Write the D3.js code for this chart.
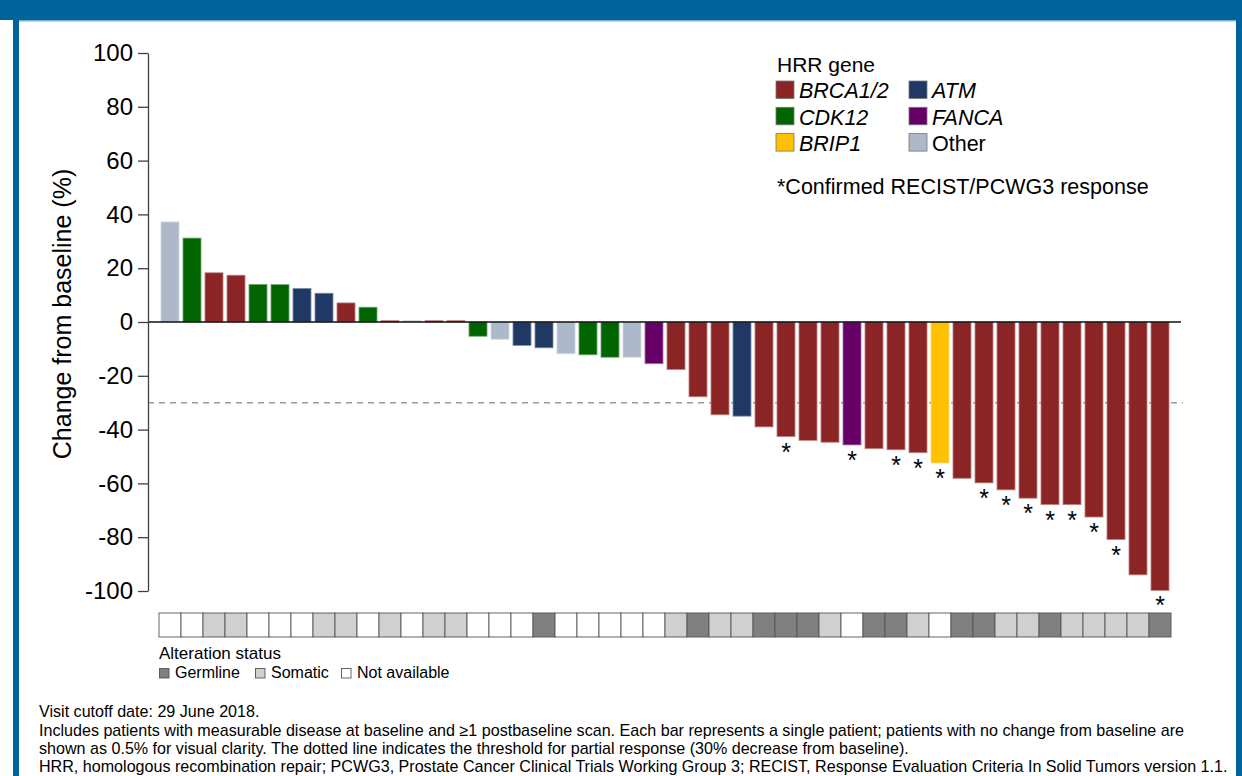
<!DOCTYPE html>
<html>
<head>
<meta charset="utf-8">
<script src="https://cdn.jsdelivr.net/npm/d3@7"></script>
<style>
  html, body { margin: 0; padding: 0; background: #fff; }
  svg { display: block; font-family: "Liberation Sans", Arial, sans-serif; }
</style>
</head>
<body>
<svg id="chart" width="1242" height="776"></svg>
<script>
// ---- Data ----
const genes = ["Other","CDK12","BRCA1/2","BRCA1/2","CDK12","CDK12","ATM","ATM","BRCA1/2","CDK12",
  "BRCA1/2","Other","BRCA1/2","BRCA1/2","CDK12","Other","ATM","ATM","Other","CDK12",
  "CDK12","Other","FANCA","BRCA1/2","BRCA1/2","BRCA1/2","ATM","BRCA1/2","BRCA1/2","BRCA1/2",
  "BRCA1/2","FANCA","BRCA1/2","BRCA1/2","BRCA1/2","BRIP1","BRCA1/2","BRCA1/2","BRCA1/2","BRCA1/2",
  "BRCA1/2","BRCA1/2","BRCA1/2","BRCA1/2","BRCA1/2","BRCA1/2"];
const changes = [37.2, 31.2, 18.3, 17.4, 14.0, 13.9, 12.5, 10.7, 7.1, 5.5,
  0.5, 0.5, 0.5, 0.5, -5.3, -6.4, -8.7, -9.6, -11.8, -12.2,
  -13.1, -13.1, -15.5, -17.7, -27.8, -34.5, -35.0, -39.0, -42.6, -44.0,
  -44.7, -45.7, -47.1, -47.5, -48.6, -52.4, -58.1, -59.8, -62.4, -65.5,
  -67.9, -67.9, -72.5, -80.9, -94.0, -99.8];
const confirmed = [0,0,0,0,0,0,0,0,0,0, 0,0,0,0,0,0,0,0,0,0, 0,0,0,0,0,0,0,0,1,0,
  0,1,0,1,1,1,0,1,1,1, 1,1,1,1,0,1];
const alteration = ["N","N","S","S","N","N","N","S","S","N",
  "S","N","S","S","N","N","N","G","N","N",
  "N","N","N","S","G","S","S","G","G","G",
  "S","N","G","G","S","N","G","G","S","S",
  "G","S","S","S","S","G"];
const yTicks = [100, 80, 60, 40, 20, 0, -20, -40, -60, -80, -100];
const threshold = -30;
const geneOrder = ["BRCA1/2","CDK12","BRIP1","ATM","FANCA","Other"];
const geneColors = ["#8B2424","#006400","#FFC000","#1F3864","#660066","#ADB9CA"];
const statusKeys = ["G","S","N"];
const statusLabels = ["Germline","Somatic","Not available"];
const statusColors = ["#808080","#D0D0D0","#FFFFFF"];
const footnotes = [
  "Visit cutoff date: 29 June 2018.",
  "Includes patients with measurable disease at baseline and \u22651 postbaseline scan. Each bar represents a single patient; patients with no change from baseline are",
  "shown as 0.5% for visual clarity. The dotted line indicates the threshold for partial response (30% decrease from baseline).",
  "HRR, homologous recombination repair; PCWG3, Prostate Cancer Clinical Trials Working Group 3; RECIST, Response Evaluation Criteria In Solid Tumors version 1.1."
];

// ---- Setup ----
const svg = d3.select("#chart");
const W = 1242, H = 776;
const blue = "#00649C";

// frame
svg.append("rect").attr("x",0).attr("y",0).attr("width",W).attr("height",20).attr("fill",blue);
svg.append("rect").attr("x",13).attr("y",0).attr("width",6).attr("height",H).attr("fill",blue);
svg.append("rect").attr("x",1236).attr("y",0).attr("width",6).attr("height",H).attr("fill",blue);
svg.append("rect").attr("x",19).attr("y",20).attr("width",1217).attr("height",1.5).attr("fill","#7FB0D0");

const idx = d3.range(changes.length);
const color = d3.scaleOrdinal().domain(geneOrder).range(geneColors);
const statusColor = d3.scaleOrdinal().domain(statusKeys).range(statusColors);

const y = d3.scaleLinear().domain([-100, 100]).range([591, 53]);
const x = d3.scaleBand().domain(idx).range([159, 1171]).paddingInner(0.18).paddingOuter(0.09);
const xs = d3.scaleBand().domain(idx).range([159, 1171]).padding(0);

// threshold line
svg.append("line")
  .attr("x1",148).attr("x2",1183)
  .attr("y1",y(threshold)).attr("y2",y(threshold))
  .attr("stroke","#999").attr("stroke-width",1.5).attr("stroke-dasharray","6,5");

// bars
svg.append("g").selectAll("rect").data(idx).join("rect")
  .attr("x", i => x(i))
  .attr("width", x.bandwidth())
  .attr("y", i => y(Math.max(0, changes[i])))
  .attr("height", i => Math.abs(y(changes[i]) - y(0)))
  .attr("fill", i => color(genes[i]))
  .attr("stroke", i => d3.interpolateRgb(color(genes[i]), "#fff")(0.45))
  .attr("stroke-width", 0.8);

// zero line
svg.append("line")
  .attr("x1",148).attr("x2",1181)
  .attr("y1",y(0)).attr("y2",y(0))
  .attr("stroke","#111").attr("stroke-width",1.5);

// stars
svg.append("g").selectAll("text").data(idx.filter(i => confirmed[i])).join("text")
  .attr("x", i => x(i) + x.bandwidth()/2)
  .attr("y", i => y(changes[i]) + 24)
  .attr("text-anchor","middle")
  .attr("font-size",25)
  .attr("fill","#000")
  .text("*");

// y axis
const yAxis = d3.axisLeft(y).tickValues(yTicks).tickSize(10).tickSizeOuter(0).tickPadding(5).tickFormat(d => String(d));
const gy = svg.append("g").attr("transform","translate(148,0)").call(yAxis);
gy.selectAll("path, line").attr("stroke","#404040").attr("stroke-width",1.3);
gy.selectAll("text").attr("font-size",24).attr("fill","#000")
  .attr("font-family","'Liberation Sans', Arial, sans-serif");

svg.append("text")
  .attr("transform","translate(62,314) rotate(-90)")
  .attr("text-anchor","middle").attr("dominant-baseline","central")
  .attr("font-size",25).attr("fill","#000")
  .text("Change from baseline (%)");

// alteration strip
svg.append("g").selectAll("rect").data(idx).join("rect")
  .attr("x", i => xs(i)).attr("width", xs.bandwidth())
  .attr("y", 613).attr("height", 24)
  .attr("fill", i => statusColor(alteration[i]))
  .attr("stroke","#555").attr("stroke-width",0.9);

svg.append("text").attr("x",159).attr("y",659).attr("font-size",17).attr("fill","#000").text("Alteration status");
const sl = svg.append("g");
const slX = [159, 255, 341];
statusKeys.forEach((k, j) => {
  sl.append("rect").attr("x", slX[j] + 0.5).attr("y", 668.5).attr("width", 9.5).attr("height", 9.5)
    .attr("fill", statusColor(k)).attr("stroke", "#555").attr("stroke-width", 0.9);
  sl.append("text").attr("x", slX[j] + 16).attr("y", 678).attr("font-size", 16).attr("fill","#000").text(statusLabels[j]);
});

// gene legend
const lg = svg.append("g");
lg.append("text").attr("x",777).attr("y",72).attr("font-size",21).attr("fill","#000").text("HRR gene");
geneOrder.forEach((g, j) => {
  const col = Math.floor(j / 3), row = j % 3;
  const sx = col === 0 ? 776 : 909;
  const sy = 81 + row * 26.3;
  lg.append("rect").attr("x", sx).attr("y", sy).attr("width", 18).attr("height", 17.5)
    .attr("fill", color(g)).attr("stroke", "#777").attr("stroke-width", 0.8);
  lg.append("text").attr("x", sx + 23).attr("y", sy + 17.3).attr("font-size", 21.5)
    .attr("font-style", g === "Other" ? "normal" : "italic").attr("fill","#000").text(g);
});
lg.append("text").attr("x",777).attr("y",194).attr("font-size",21.5).attr("fill","#000").text("*Confirmed RECIST/PCWG3 response");

// footnotes
const fy = [717, 736, 754, 772];
svg.append("g").selectAll("text").data(footnotes).join("text")
  .attr("x", 39).attr("y", (d, i) => fy[i])
  .attr("font-size", 16.1).attr("fill","#000")
  .text(d => d);
</script>
</body>
</html>
